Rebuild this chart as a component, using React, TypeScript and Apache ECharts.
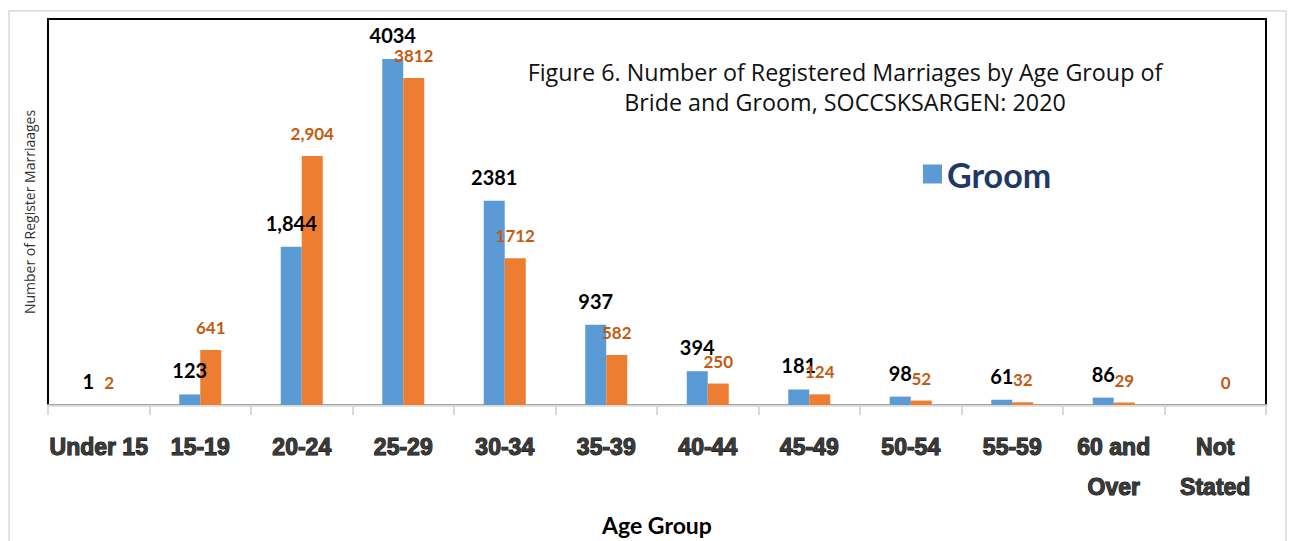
import React, { useEffect, useRef } from "react";
import * as echarts from "echarts";

const categories = ["Under 15", "15-19", "20-24", "25-29", "30-34", "35-39", "40-44", "45-49", "50-54", "55-59", "60 and\nOver", "Not\nStated"];
const groomValues = [1, 123, 1844, 4034, 2381, 937, 394, 181, 98, 61, 86, null];
const brideValues = [2, 641, 2904, 3812, 1712, 582, 250, 124, 52, 32, 29, 0];
const groomLabels = ["1", "123", "1,844", "4034", "2381", "937", "394", "181", "98", "61", "86", ""];
const brideLabels = ["2", "641", "2,904", "3812", "1712", "582", "250", "124", "52", "32", "29", "0"];
const titleText = "Figure 6. Number of Registered Marriages by Age Group of\nBride and Groom, SOCCSKSARGEN: 2020";

export default function App() {
  const ref = useRef<HTMLDivElement>(null);
  useEffect(() => {
    document.body.style.margin = "0";
    const chart = echarts.init(ref.current!, null, { renderer: "svg" });
    chart.setOption({
      animation: false,
      backgroundColor: "#fff",
      grid: { left: 48, right: 24, top: 19, bottom: 136, show: true, borderColor: "#000", borderWidth: 2, backgroundColor: "transparent" },
      legend: {
        data: ["Groom"],
        left: 918,
        top: 152,
        itemWidth: 19,
        itemHeight: 19,
        itemGap: 10,
        icon: "rect",
        textStyle: { fontSize: 34, fontWeight: "bold", color: "#1f3864", fontFamily: "Lato" },
      },
      xAxis: {
        type: "category",
        data: categories,
        name: "Age Group",
        nameLocation: "middle",
        nameGap: 108,
        nameTextStyle: { fontSize: 23, fontWeight: "bold", color: "#000", fontFamily: "Lato" },
        axisLine: { lineStyle: { color: "#d9d9d9", width: 2.5 } },
        axisTick: { show: true, length: 10, lineStyle: { color: "#d9d9d9", width: 2 } },
        axisLabel: {
          interval: 0,
          margin: 22,
          fontSize: 23,
          lineHeight: 40,
          fontWeight: "bold",
          fontFamily: "'Liberation Sans', Arial, sans-serif",
          color: "#3a3a3a",
          textBorderColor: "#000",
          textBorderWidth: 1,
        },
      },
      yAxis: {
        type: "value",
        min: 0,
        max: 4500,
        name: "Number of Register Marriaages",
        nameLocation: "middle",
        nameGap: 12,
        nameTextStyle: { fontSize: 14, color: "#333", fontFamily: "Open Sans" },
        axisLine: { show: false },
        axisTick: { show: false },
        axisLabel: { show: false },
        splitLine: { show: false },
      },
      series: [
        {
          name: "Groom",
          type: "bar",
          data: groomValues,
          barWidth: 21,
          barGap: "0%",
          itemStyle: { color: "#5b9bd5" },
          label: {
            show: true,
            position: "top",
            distance: 14,
            fontSize: 20,
            fontWeight: "bold",
            fontFamily: "Lato",
            color: "#000",
            formatter: (p: any) => groomLabels[p.dataIndex],
          },
        },
        {
          name: "Bride",
          type: "bar",
          data: brideValues,
          barWidth: 21,
          itemStyle: { color: "#ed7d31" },
          label: {
            show: true,
            position: "top",
            distance: 14,
            fontSize: 17,
            fontWeight: "bold",
            fontFamily: "Lato",
            color: "#c55a11",
            formatter: (p: any) => brideLabels[p.dataIndex],
          },
        },
      ],
      graphic: [
        {
          type: "rect",
          shape: { x: 9, y: 11, width: 1277, height: 545 },
          style: { fill: "none", stroke: "#d9d9d9", lineWidth: 1.5 },
          silent: true,
        },
        {
          type: "text",
          x: 845,
          y: 87,
          style: {
            text: titleText,
            textAlign: "center",
            textVerticalAlign: "middle",
            fontSize: 23.3,
            lineHeight: 30,
            fontFamily: "Open Sans",
            fill: "#111",
          },
        },
      ],
    });
    return () => chart.dispose();
  }, []);
  return <div ref={ref} style={{ width: 1290, height: 541 }} />;
}
